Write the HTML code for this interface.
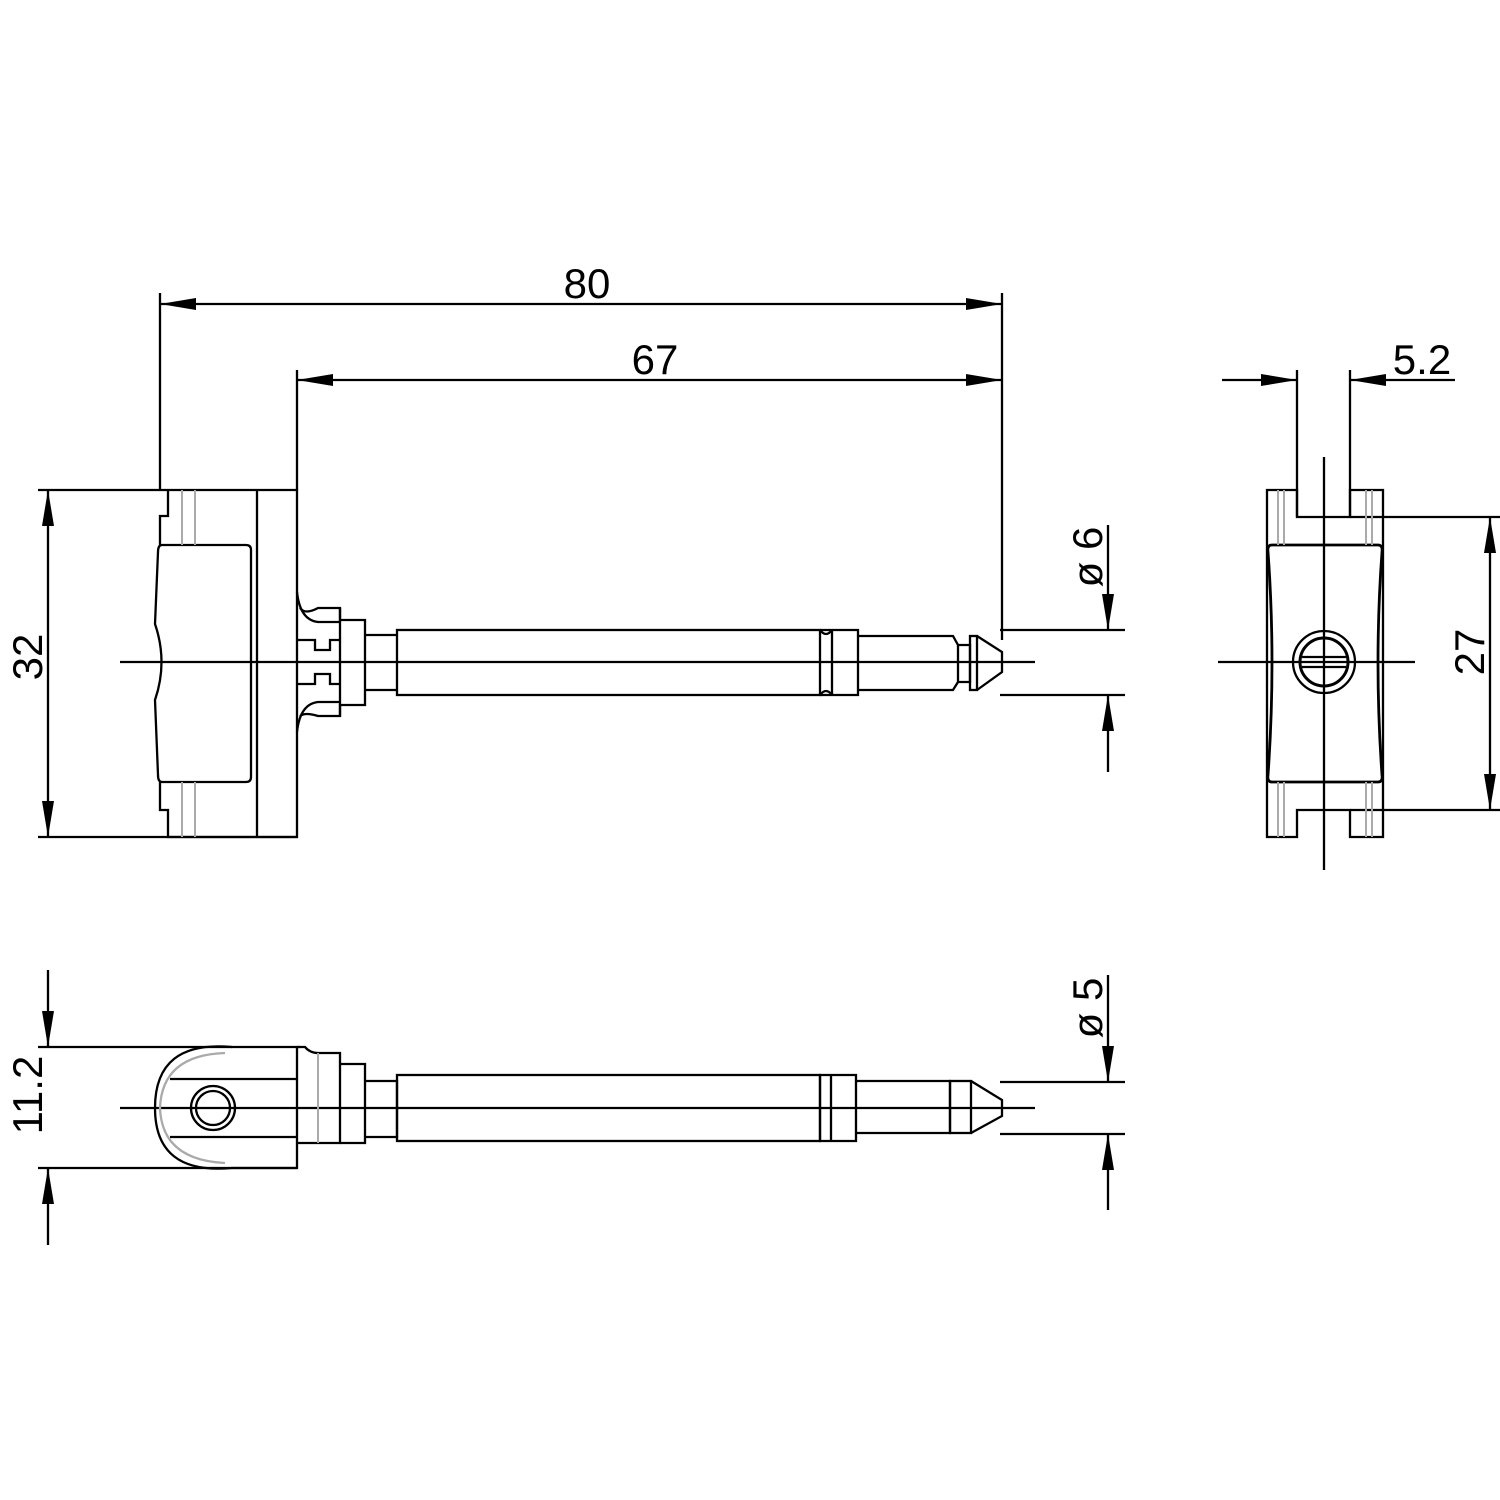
<!DOCTYPE html>
<html><head><meta charset="utf-8"><style>html,body{margin:0;padding:0;background:#fff}svg{display:block}</style></head>
<body>
<svg width="1500" height="1500" viewBox="0 0 1500 1500" xmlns="http://www.w3.org/2000/svg">
<defs>
<marker id="a" viewBox="0 0 36 12" refX="36" refY="6" markerWidth="36" markerHeight="12" markerUnits="userSpaceOnUse" orient="auto-start-reverse"><path d="M0,0 L36,6 L0,12 Z" fill="#000"/></marker>
</defs>
<g fill="none" stroke="#000" stroke-width="2.3">
<!-- dimension 80 -->
<line x1="160" y1="293" x2="160" y2="490"/>
<line x1="1002" y1="293" x2="1002" y2="640"/>
<line x1="160" y1="304" x2="1002" y2="304" marker-start="url(#a)" marker-end="url(#a)"/>
<!-- 67 -->
<line x1="297" y1="370" x2="297" y2="490"/>
<line x1="297" y1="380" x2="1002" y2="380" marker-start="url(#a)" marker-end="url(#a)"/>
<!-- 32 -->
<line x1="38" y1="490" x2="160" y2="490"/>
<line x1="38" y1="837" x2="297" y2="837"/>
<line x1="48" y1="490" x2="48" y2="837" marker-start="url(#a)" marker-end="url(#a)"/>
<!-- ø6 -->
<line x1="1000" y1="630" x2="1125" y2="630"/>
<line x1="1000" y1="695" x2="1125" y2="695"/>
<line x1="1108" y1="525" x2="1108" y2="630" marker-end="url(#a)"/>
<line x1="1108" y1="772" x2="1108" y2="695" marker-end="url(#a)"/>
<!-- top view centerline -->
<line x1="120" y1="662" x2="1035" y2="662"/>
<!-- block -->
<path d="M160,490 H297 V837 H168 V810 H160 V782"/>
<path d="M160,545 V516 H168 V490"/>
<line x1="257" y1="490" x2="257" y2="837"/>
<path d="M162,545 H246 Q251,545 251,550 V777 Q251,782 246,782 H162 Q158,782 158,775 L155,700 Q168,662 155,624 L158,552 Q158,545 162,545 Z"/>
<!-- collar -->
<path d="M297,592 Q300,620 318,622 H340"/>
<path d="M297,732 Q300,704 318,702 H340"/>
<path d="M300,608 Q305,615 318,608 H340 V620 H365 V705 H340 V716 H318 Q305,712 300,716"/>
<line x1="340" y1="608" x2="340" y2="716"/>
<path d="M297,640 H315 V650 H330 V640 H340"/>
<path d="M297,684 H315 V674 H330 V684 H340"/>
<path d="M365,635 H397 M365,690 H397"/>
<!-- shaft -->
<rect x="397" y="630" width="423" height="65"/>
<path d="M820,630 Q826,638 832,630 M820,695 Q826,687 832,695"/>
<line x1="832" y1="630" x2="832" y2="695"/>
<path d="M820,630 H858 V695 H820"/>
<path d="M858,636 H953 L958,645 V682 L953,690 H858"/>
<path d="M958,645 H970 V682 H958"/>
<rect x="970" y="636" width="7" height="54"/>
<path d="M977,636 L1002,652 V672 L977,690"/>
<!-- right view -->
<line x1="1297" y1="370" x2="1297" y2="517"/>
<line x1="1350" y1="370" x2="1350" y2="517"/>
<line x1="1222" y1="380" x2="1297" y2="380" marker-end="url(#a)"/>
<line x1="1455" y1="380" x2="1350" y2="380" marker-end="url(#a)"/>
<path d="M1267,490 H1297 V517 H1350 V490 H1383 V837 H1350 V810 H1297 V837 H1267 Z"/>
<line x1="1350" y1="517" x2="1500" y2="517"/>
<line x1="1350" y1="810" x2="1500" y2="810"/>
<line x1="1490" y1="517" x2="1490" y2="810" marker-start="url(#a)" marker-end="url(#a)"/>
<path d="M1272,545 H1378 Q1383,545 1382,552 Q1374,662 1382,775 Q1383,782 1378,782 H1272 Q1267,782 1268,775 Q1276,662 1268,552 Q1267,545 1272,545 Z" stroke-width="2.8"/>
<line x1="1324" y1="457" x2="1324" y2="870"/>
<line x1="1218" y1="662" x2="1415" y2="662"/>
<circle cx="1324" cy="662" r="31"/>
<circle cx="1324" cy="662" r="24" stroke-width="3"/>
<line x1="1302" y1="657" x2="1346" y2="657"/>
<line x1="1302" y1="667" x2="1346" y2="667"/>
<!-- bottom view -->
<line x1="48" y1="970" x2="48" y2="1047" marker-end="url(#a)"/>
<line x1="48" y1="1245" x2="48" y2="1168" marker-end="url(#a)"/>
<line x1="38" y1="1047" x2="300" y2="1047"/>
<line x1="38" y1="1168" x2="297" y2="1168"/>
<line x1="1108" y1="975" x2="1108" y2="1082" marker-end="url(#a)"/>
<line x1="1108" y1="1210" x2="1108" y2="1134" marker-end="url(#a)"/>
<line x1="1000" y1="1082" x2="1125" y2="1082"/>
<line x1="1000" y1="1134" x2="1125" y2="1134"/>
<line x1="120" y1="1108" x2="1035" y2="1108"/>
<path d="M297,1047 V1168 H232"/>
<path d="M232,1047 Q155,1040 155,1108 Q155,1175 232,1168"/>
<path d="M225,1053 Q162,1055 160,1108 Q162,1160 225,1163" stroke="#aaa"/>
<line x1="170" y1="1079" x2="297" y2="1079"/>
<line x1="170" y1="1137" x2="297" y2="1137"/>
<circle cx="213" cy="1108" r="22"/>
<circle cx="213" cy="1108" r="17"/>
<path d="M297,1047 H305 Q310,1053 318,1053 H340 V1143 H297"/>
<path d="M340,1064 H365 V1143 H340"/>
<path d="M365,1081 H397 V1137 H365"/>
<rect x="397" y="1075" width="423" height="66"/>
<path d="M820,1075 H856 V1141 H820 Z"/>
<line x1="831" y1="1075" x2="831" y2="1141"/>
<path d="M856,1081 H950 V1133 H856"/>
<rect x="950" y="1081" width="21" height="52"/>
<path d="M971,1081 L1002,1100 V1116 L971,1133"/>
</g>
<g stroke="#aaa" stroke-width="2" fill="none">
<line x1="182" y1="490" x2="182" y2="545"/><line x1="195" y1="490" x2="195" y2="545"/>
<line x1="182" y1="782" x2="182" y2="837"/><line x1="195" y1="782" x2="195" y2="837"/>
<line x1="1278" y1="490" x2="1278" y2="545"/><line x1="1284" y1="490" x2="1284" y2="545"/>
<line x1="1366" y1="490" x2="1366" y2="545"/><line x1="1372" y1="490" x2="1372" y2="545"/>
<line x1="1278" y1="782" x2="1278" y2="837"/><line x1="1284" y1="782" x2="1284" y2="837"/>
<line x1="1366" y1="782" x2="1366" y2="837"/><line x1="1372" y1="782" x2="1372" y2="837"/>
<line x1="318" y1="1053" x2="318" y2="1143"/>
</g>
<g font-family="Liberation Sans, sans-serif" font-size="42" fill="#000" text-anchor="middle">
<text x="587" y="298">80</text>
<text x="655" y="374">67</text>
<text x="1422" y="374">5.2</text>
<text transform="translate(42,657) rotate(-90)">32</text>
<text transform="translate(1484,652) rotate(-90)">27</text>
<text transform="translate(1102,557) rotate(-90)">ø 6</text>
<text transform="translate(1102,1008) rotate(-90)">ø 5</text>
<text transform="translate(42,1095) rotate(-90)">11.2</text>
</g>
</svg>
</body></html>
